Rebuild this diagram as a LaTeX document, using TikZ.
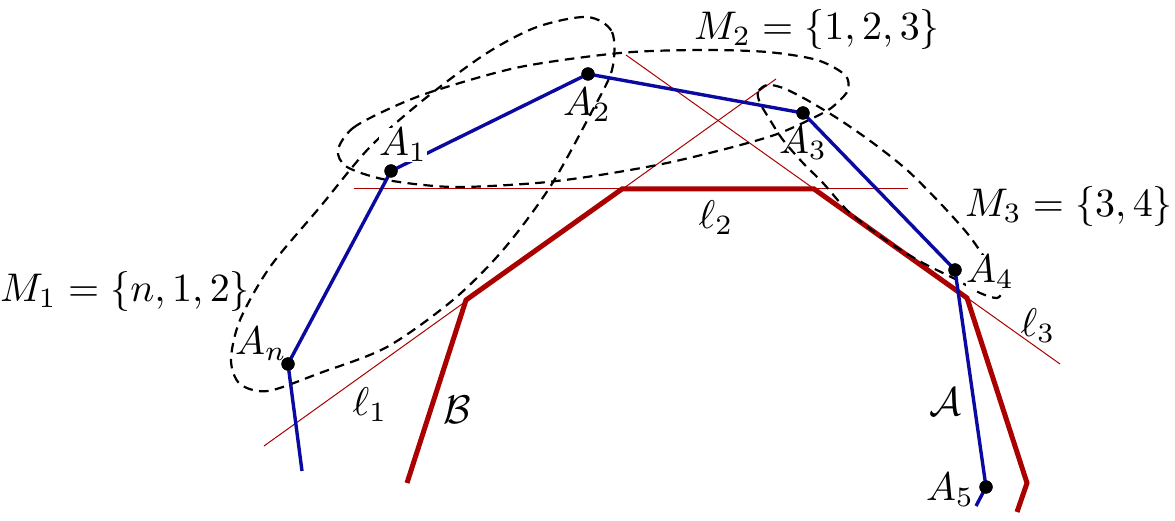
\documentclass[tikz,border=0pt]{standalone}
\usepackage{amsmath}
\usepackage{amsfonts}
\usepackage{amssymb}
\definecolor{polyblue}{RGB}{10,10,160}
\definecolor{polyred}{RGB}{170,0,0}

\begin{document}
\begin{tikzpicture}[x=0.25pt,y=-0.25pt,
  edgeA/.style={draw=polyblue,line width=0.85pt},
  edgeB/.style={draw=polyred,line width=1.25pt},
  support/.style={draw=polyred,line width=0.25pt},
  setloop/.style={draw=black,line width=0.55pt,dash pattern=on 2.4pt off 1.6pt},
  vertex/.style={circle,fill=black,inner sep=0pt,minimum size=3.3pt},
  lab/.style={inner sep=0.5pt},
  labw/.style={inner sep=0pt,fill=white}]
\useasboundingbox (0,0) rectangle (1175,521);

% polygon B
\coordinate (Bs) at (407,483);
\coordinate (B1) at (466,300);
\coordinate (B2) at (622,189);
\coordinate (B3) at (814,189);
\coordinate (B4) at (967,298);
\coordinate (B5) at (1027,483);
\coordinate (Be) at (1017,512);

% support lines
\coordinate (l1a) at (264,446);
\coordinate (l1b) at (776,79);
\coordinate (l2a) at (354,189);
\coordinate (l2b) at (908,189);
\coordinate (l3a) at (626,55);
\coordinate (l3b) at (1060,364);
\draw[support] (l1a) -- (l1b);
\draw[support] (l2a) -- (l2b);
\draw[support] (l3a) -- (l3b);

\draw[edgeB] (Bs) -- (B1) -- (B2) -- (B3) -- (B4) -- (B5) -- (Be);

% the sets M_1, M_2, M_3
\draw[setloop] plot[smooth cycle] coordinates {(587,17) (612,32) (612,70) (590,115) (550,187) (503,250) (453,300) (387,347) (320,373) (268,391) (240,384) (231,360) (240,320) (270,267) (320,207) (370,147) (427,97) (487,53) (537,27)};
\draw[setloop] plot[smooth cycle] coordinates {(338,150) (353,128) (393,107) (437,90) (520,67) (620,53) (700,50) (767,52) (817,60) (845,75) (848,90) (837,103) (823,113) (780,133) (733,147) (667,163) (600,175) (537,183) (453,187) (387,180) (347,167)};
\draw[setloop] plot[smooth cycle] coordinates {(767,85) (758,92) (760,103) (770,120) (783,140) (803,163) (823,183) (850,213) (890,243) (923,263) (957,280) (980,293) (997,298) (1002,290) (997,273) (983,255) (967,233) (940,203) (907,170) (873,143) (840,120) (807,100) (783,88)};

% polygon A
\coordinate (As) at (302,471);
\coordinate (Ae) at (976,506);
\node[vertex] (An) at (288,364) {};
\node[vertex] (A1) at (391,171) {};
\node[vertex] (A2) at (588,74) {};
\node[vertex] (A3) at (803,113) {};
\node[vertex] (A4) at (955,270) {};
\node[vertex] (A5) at (986,487) {};
\draw[edgeA] (As) -- (An.center) -- (A1.center) -- (A2.center) -- (A3.center) -- (A4.center) -- (A5.center) -- (Ae);
\foreach \v in {An,A1,A2,A3,A4,A5} \fill (\v) circle (1.65pt);

\node[lab] (tAn) at (261,344) {$A_n$};
\node[labw] (tA1) at (403,145) {$A_1$};
\node[lab] (tA2) at (587,105) {$A_2$};
\node[lab] (tA3) at (803,143) {$A_3$};
\node[labw] (tA4) at (990,272) {$A_4$};
\node[lab] (tA5) at (950,490) {$A_5$};
\node[lab] (tcA) at (945,402) {$\mathcal{A}$};
\node[lab] (tcB) at (457,410) {$\mathcal{B}$};
\node[lab] (tl1) at (370,405) {$\ell_1$};
\node[lab] (tl2) at (716,218) {$\ell_2$};
\node[lab] (tl3) at (1038,326) {$\ell_3$};
\node[lab] (tM1) at (125,292) {$M_1=\{n,1,2\}$};
\node[lab] (tM2) at (817,30) {$M_2=\{1,2,3\}$};
\node[lab] (tM3) at (1069,207) {$M_3=\{3,4\}$};
\end{tikzpicture}
\end{document}
